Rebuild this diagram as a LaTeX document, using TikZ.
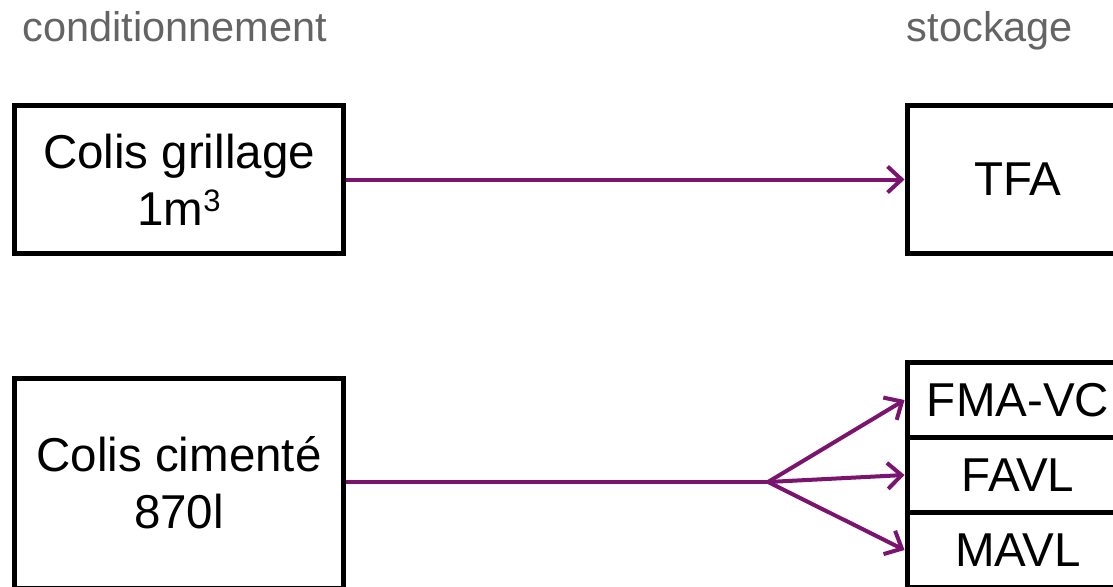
\documentclass[tikz,border=0pt]{standalone}
\usepackage{fontspec}
\setmainfont{Liberation Sans}
\usetikzlibrary{arrows.meta}
\definecolor{flowpurple}{RGB}{122,20,110}
\definecolor{headgray}{RGB}{100,100,100}
\newcommand{\supthree}{\raisebox{14pt}{\fontsize{31}{31}\selectfont 3}}
\tikzset{
    waste-box/.style = {draw=black, line width=5pt, rectangle, inner sep=0pt, align=center, font=\fontsize{47.5}{57}\selectfont},
    col-title/.style = {text=headgray, font=\fontsize{41.5}{50}\selectfont, anchor=base},
    flow/.style = {draw=flowpurple, line width=4pt, -{Straight Barb[length=14pt, width=26pt, line width=4pt]}},
}

\begin{document}
\begin{tikzpicture}[x=1pt, y=-1pt]
\useasboundingbox (0,0) rectangle (1113,586);
\node [col-title] (cond) at (175,42) {conditionnement};
\node [col-title] (stock) at (990,42) {stockage};

\node [waste-box, minimum width=329pt, minimum height=148pt] (grillage) at (179,179.5) {Colis grillage\\1m\supthree};
\node [waste-box, minimum width=222pt, minimum height=148pt] (tfa) at (1018,179.5) {TFA};

\node [waste-box, minimum width=329pt, minimum height=210pt] (cimente) at (179,483) {Colis cimenté\\870l};
\node [waste-box, minimum width=222pt, minimum height=75pt] (fmavc) at (1018,400) {FMA-VC};
\node [waste-box, minimum width=222pt, minimum height=75pt] (favl) at (1018,475) {FAVL};
\node [waste-box, minimum width=222pt, minimum height=75pt] (mavl) at (1018,550) {MAVL};

\coordinate (split) at (768,482);

\draw [flow] (grillage.east) -- (tfa.west);
\draw [flowpurple, line width=4pt] (cimente.east |- split) -- (split);
\draw [flow] (split) -- (fmavc.west);
\draw [flow] (split) -- (favl.west);
\draw [flow] (split) -- (mavl.west);
\end{tikzpicture}
\end{document}
